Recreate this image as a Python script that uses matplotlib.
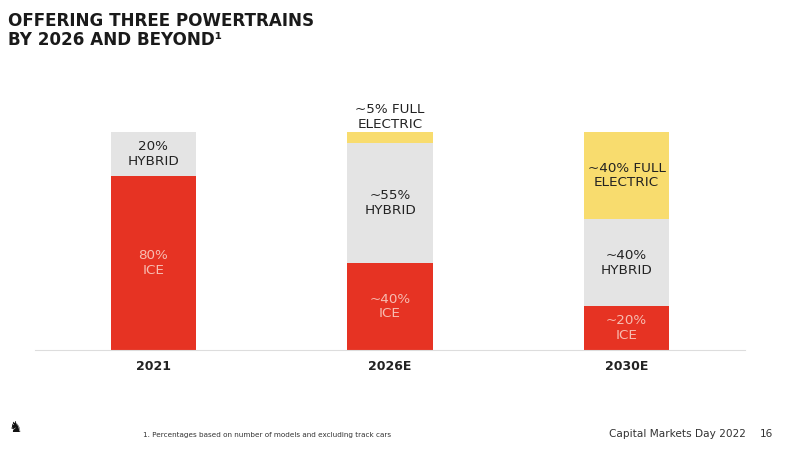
import numpy as np
import matplotlib.pyplot as plt

years = ['2021', '2026E', '2030E']
ice = [80, 40, 20]
hybrid = [20, 55, 40]
electric = [0, 5, 40]
ice_labels = ['80%\nICE', '~40%\nICE', '~20%\nICE']
hybrid_labels = ['20%\nHYBRID', '~55%\nHYBRID', '~40%\nHYBRID']
electric_labels = ['', '~5% FULL\nELECTRIC', '~40% FULL\nELECTRIC']

RED = '#E63323'
GREY = '#E4E4E4'
YELLOW = '#F8DC6E'
ICE_TXT = '#F7BDB2'

plt.rcParams['font.family'] = ['DejaVu Sans']

fig = plt.figure(figsize=(7.95, 4.51), dpi=100)
W, H = 795, 451
ax = fig.add_axes([35/W, (H-350)/H, 710/W, 218/H])

x = np.arange(len(years))
w = 0.36
ice = np.array(ice)
hybrid = np.array(hybrid)
electric = np.array(electric)

ax.bar(x, ice, w, color=RED)
ax.bar(x, hybrid, w, bottom=ice, color=GREY)
ax.bar(x, electric, w, bottom=ice+hybrid, color=YELLOW)

fs = 9.7
for i in range(len(years)):
    ax.text(x[i], ice[i]/2, ice_labels[i], ha='center', va='center',
            color=ICE_TXT, fontsize=fs, linespacing=1.15)
    ax.text(x[i], ice[i] + hybrid[i]/2, hybrid_labels[i], ha='center',
            va='center', color='#222222', fontsize=fs, linespacing=1.15)
    if electric[i] >= 20:
        ax.text(x[i], ice[i] + hybrid[i] + electric[i]/2, electric_labels[i],
                ha='center', va='center', color='#222222', fontsize=fs,
                linespacing=1.15)
    elif electric[i] > 0:
        ax.text(x[i], ice[i] + hybrid[i] + electric[i] + 0.5, electric_labels[i],
                ha='center', va='bottom', color='#222222', fontsize=fs,
                linespacing=1.15)

ax.set_xlim(-0.5, 2.5)
ax.set_ylim(0, 100)
ax.set_xticks(x)
ax.set_xticklabels(years, fontsize=9, fontweight='bold', color='#222222')
ax.tick_params(axis='x', length=0, pad=7)
ax.set_yticks([])
for s in ['top', 'right', 'left']:
    ax.spines[s].set_visible(False)
ax.spines['bottom'].set_color('#DDDDDD')
ax.spines['bottom'].set_linewidth(0.8)

fig.text(8/W, 1 - 12/H, 'OFFERING THREE POWERTRAINS\nBY 2026 AND BEYOND\u00b9',
         ha='left', va='top', fontsize=12.1, fontweight='bold',
         color='#1a1a1a', linespacing=1.05)

fig.text(143/W, 1 - 435/H, '1. Percentages based on number of models and excluding track cars',
         ha='left', va='center', fontsize=5.2, color='#333333')
fig.text(609/W, 1 - 434/H, 'Capital Markets Day 2022', ha='left', va='center',
         fontsize=7.6, color='#333333')
fig.text(773/W, 1 - 434/H, '16', ha='right', va='center', fontsize=7.6,
         color='#333333')
fig.text(15/W, 1 - 428/H, '\u265E', ha='center', va='center', fontsize=11,
         color='#111111')

fig.savefig('out.png', dpi=100)
